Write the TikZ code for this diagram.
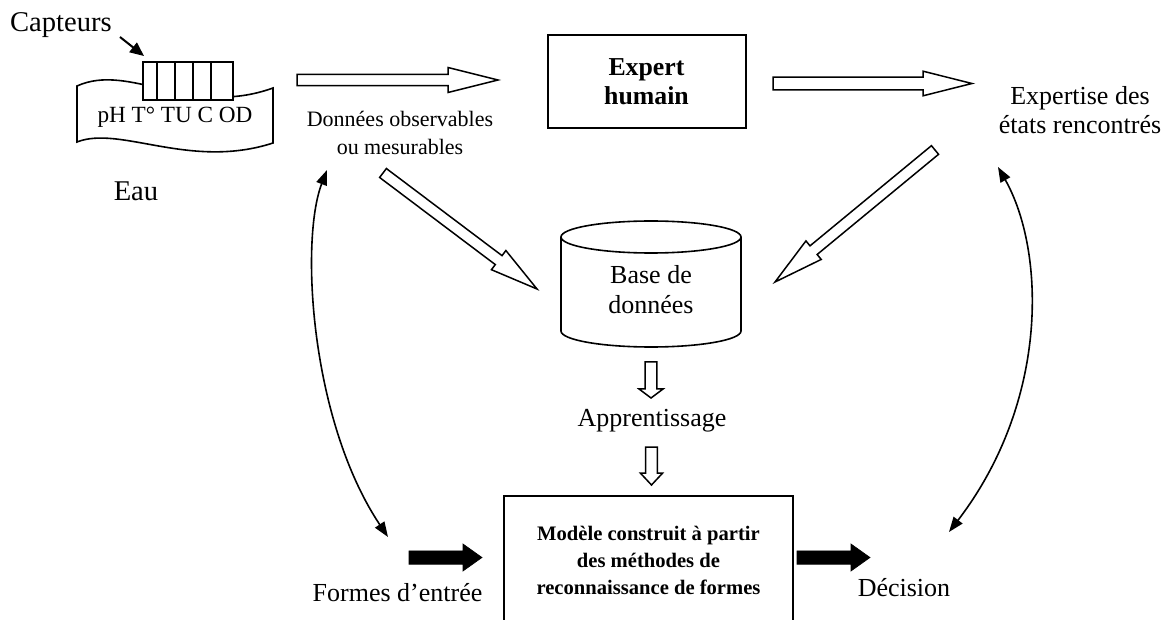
\documentclass[tikz,border=0pt]{standalone}
\usepackage{fontspec}
\setmainfont{Liberation Serif}
\usetikzlibrary{calc,arrows.meta}

% Block arrow drawn as a polygon from #2 to the tip #3.
% #1 style, #4 half shaft width, #5 half head width, #6 head length.
\newcommand\blockarrow[6]{%
  \coordinate (ba-base) at ($(#3)!#6!(#2)$);
  \draw[#1] ($(#2)!#4!90:(#3)$) -- ($(ba-base)!#4!90:(#3)$)
    -- ($(ba-base)!#5!90:(#3)$) -- (#3)
    -- ($(ba-base)!#5!-90:(#3)$) -- ($(ba-base)!#4!-90:(#3)$)
    -- ($(#2)!#4!-90:(#3)$) -- cycle;}

\begin{document}
\begin{tikzpicture}[x=0.5pt,y=-0.5pt,
  txt/.style={inner sep=0pt,align=center,font=\fontsize{13}{14.5}\selectfont},
  hollow/.style={draw=black,fill=white,line width=0.75pt,line join=miter},
  solid/.style={draw=black,fill=black,line width=0.3pt},
  link/.style={line width=0.8pt,{Triangle[length=7.5pt,width=5.5pt]}-{Triangle[length=7.5pt,width=5.5pt]}},
  boxed/.style={draw,line width=1pt,inner sep=0pt,align=center}]

\useasboundingbox (0,0) rectangle (1168,620);
\clip (0,0) rectangle (1168,620);
\fill[white] (0,0) rectangle (1168,620);

% water sample sheet with the sensor block
\draw[line width=0.8pt,fill=white] (77,86) .. controls (130,62) and (190,118) .. (273,88)
  -- (273,143) .. controls (190,170) and (120,125) .. (77,142) -- cycle;
\node[draw,line width=0.9pt,fill=white,minimum width=45pt,minimum height=19pt,inner sep=0pt]
  (sensors) at (188,81) {};
\foreach \xx in {157,175,193,211}
  \draw[line width=0.9pt] (\xx,62) -- (\xx,100);
\node[txt,font=\fontsize{11.6}{13}\selectfont] (mesures) at (175,117) {pH T° TU C OD};
\node[txt,font=\fontsize{14.3}{16}\selectfont] (capteurs) at (61,25) {Capteurs};
\node[txt,font=\fontsize{14.3}{16}\selectfont] (eau) at (136,191) {Eau};
\coordinate (capfrom) at (120,37);
\coordinate (captip) at (144,56);
\draw[line width=1pt,-{Triangle[length=7pt,width=6pt]}] (capfrom) -- (captip);

% main labels and boxes
\node[txt,font=\fontsize{11}{14}\selectfont] (donnees) at (400,133) {Données observables\\ou mesurables};
\node[boxed,minimum width=99pt,minimum height=46.5pt,font=\bfseries\fontsize{12.9}{14.3}\selectfont]
  (expert) at (646.5,81.7) {Expert\\humain};
\node[txt] (expertise) at (1080,110) {Expertise des\\états rencontrés};
\node[txt,font=\fontsize{13}{15}\selectfont] (bd) at (651,290) {Base de\\données};
\node[txt] (appr) at (652,421) {Apprentissage};
\node[boxed,minimum width=144.5pt,minimum height=64pt,font=\bfseries\fontsize{10.3}{13.5}\selectfont]
  (model) at (648.5,560) {Modèle construit à partir\\des méthodes de\\reconnaissance de formes};
\node[txt] (formes) at (397.5,593) {Formes d’entrée};
\node[txt] (decision) at (904,588) {Décision};

% database cylinder
\draw[line width=0.8pt] (561,237) -- (561,331) arc[start angle=180,end angle=360,x radius=45pt,y radius=8pt] -- (741,237);
\draw[line width=0.8pt] (651,237) ellipse[x radius=45pt,y radius=8pt];

% end points of the block arrows
\coordinate (d1) at (297,80);   \coordinate (e1) at (498,80);
\coordinate (x1) at (773,83.5); \coordinate (x2) at (972,83.5);
\coordinate (t1) at (935,150);  \coordinate (t2) at (775,282);
\coordinate (o1) at (383,173);  \coordinate (o2) at (537,289);
\coordinate (b1) at (651,362);  \coordinate (b2) at (651,398);
\coordinate (a1) at (651.5,447);\coordinate (a2) at (651.5,485);
\coordinate (f1) at (409,557.5);\coordinate (f2) at (482,557.5);
\coordinate (m1) at (797,557.5);\coordinate (m2) at (870,557.5);

\blockarrow{hollow}{d1}{e1}{2.85pt}{6.25pt}{25pt}
\blockarrow{hollow}{x1}{x2}{3.15pt}{6.15pt}{24.5pt}
\blockarrow{hollow}{t1}{t2}{2.8pt}{6pt}{25pt}
\blockarrow{hollow}{o1}{o2}{2.8pt}{6pt}{24pt}
\blockarrow{hollow}{b1}{b2}{2.9pt}{6pt}{4.5pt}
\blockarrow{hollow}{a1}{a2}{2.9pt}{5.6pt}{6pt}
\blockarrow{solid}{f1}{f2}{3.35pt}{6.75pt}{9.5pt}
\blockarrow{solid}{m1}{m2}{3.35pt}{6.75pt}{9.5pt}

% feedback links
\coordinate (l1) at (388,537); \coordinate (l2) at (327,170);
\coordinate (r1) at (998,167); \coordinate (r2) at (949,532);
\draw[link] (l1) .. controls (310,420) and (300,240) .. (l2);
\draw[link] (r1) .. controls (1045,250) and (1050,400) .. (r2);
\end{tikzpicture}
\end{document}
